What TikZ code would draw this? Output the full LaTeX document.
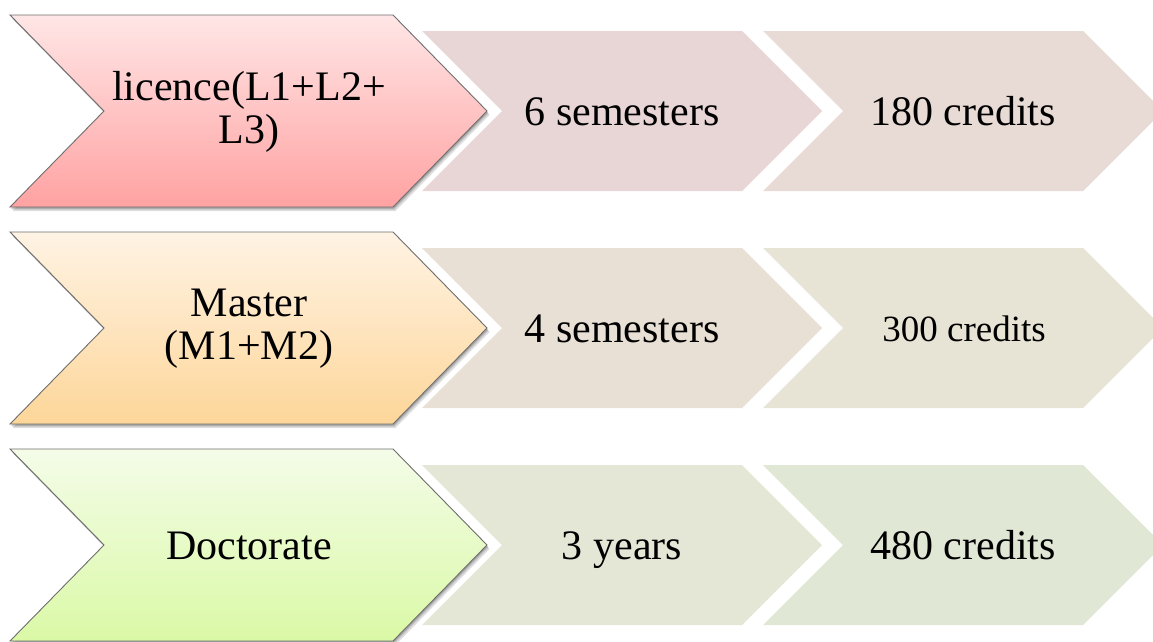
\documentclass[tikz,border=0pt]{standalone}
\usepackage{fontspec}
\setmainfont{Liberation Serif}
\definecolor{rAtop}{HTML}{FFE6E6}
\definecolor{rAbot}{HTML}{FFA2A2}
\definecolor{rBtop}{HTML}{FFF3E4}
\definecolor{rBbot}{HTML}{FDD699}
\definecolor{rCtop}{HTML}{F4FCE8}
\definecolor{rCbot}{HTML}{DAF9A6}
\definecolor{sAone}{HTML}{E8D5D5}
\definecolor{sAtwo}{HTML}{E8DAD4}
\definecolor{sBone}{HTML}{E8DFD5}
\definecolor{sBtwo}{HTML}{E7E4D5}
\definecolor{sCone}{HTML}{E4E7D5}
\definecolor{sCtwo}{HTML}{E0E7D5}
\definecolor{edgegray}{HTML}{6E6E6E}
\newcommand\chevpath[5]{(#1,#2) -- ++(#3,0) -- ++(#5,#4/2) -- ++(-#5,#4/2) -- ++(-#3,0) -- ++(#5,-#4/2) -- cycle}
\tikzset{
  bigtext/.style={font=\fontsize{42}{43}\selectfont, align=center, inner sep=0pt},
  smalltext/.style={font=\fontsize{42}{43}\selectfont, inner sep=0pt, anchor=base},
  minitext/.style={font=\fontsize{37}{40}\selectfont, inner sep=0pt, anchor=base},
  bigedge/.style={draw=edgegray, line width=0.9pt, line join=miter},
  shadowfill/.style={fill=black, fill opacity=0.13, draw=none}
}
\begin{document}
\begin{tikzpicture}[x=1pt,y=-1pt]
\useasboundingbox (0,0) rectangle (1153,641);
\clip (0,0) rectangle (1153,641);
% ---------- small chevrons ----------
\foreach \yt/\ca/\cb in {31/sAone/sAtwo, 248/sBone/sBtwo, 465/sCone/sCtwo}{
  \fill[\ca] \chevpath{422}{\yt}{320}{160}{80};
  \fill[\cb] \chevpath{763}{\yt}{320}{160}{80};
}
% ---------- big chevrons ----------
\foreach \yt/\ct/\cbm in {15/rAtop/rAbot, 232/rBtop/rBbot, 449/rCtop/rCbot}{
  \fill[shadowfill] \chevpath{12.5}{\yt+4}{383}{192}{94};
  \fill[shadowfill] \chevpath{11.5}{\yt+2.5}{383}{192}{94};
  \fill[black, opacity=0.15] \chevpath{10.8}{\yt+1.5}{383}{192}{94};
  \shade[top color=\ct, bottom color=\cbm] \chevpath{10}{\yt}{383}{192}{94};
  \draw[bigedge] \chevpath{10}{\yt}{383}{192}{94};
}
% ---------- texts ----------
\node[bigtext] (lic) at (249,112) {licence(L1+L2+\\L3)};
\node[bigtext] (mas) at (249,329) {Master\\(M1+M2)};
\node[bigtext] (doc) at (249,546) {Doctorate};
\node[smalltext] (semA) at (622,125) {6 semesters};
\node[smalltext] (credA) at (963,125) {180 credits};
\node[smalltext] (semB) at (622,342) {4 semesters};
\node[minitext] (credB) at (964,341) {300 credits};
\node[smalltext] (yrs) at (622,559) {3 years};
\node[smalltext] (credC) at (963,559) {480 credits};
\end{tikzpicture}
\end{document}
